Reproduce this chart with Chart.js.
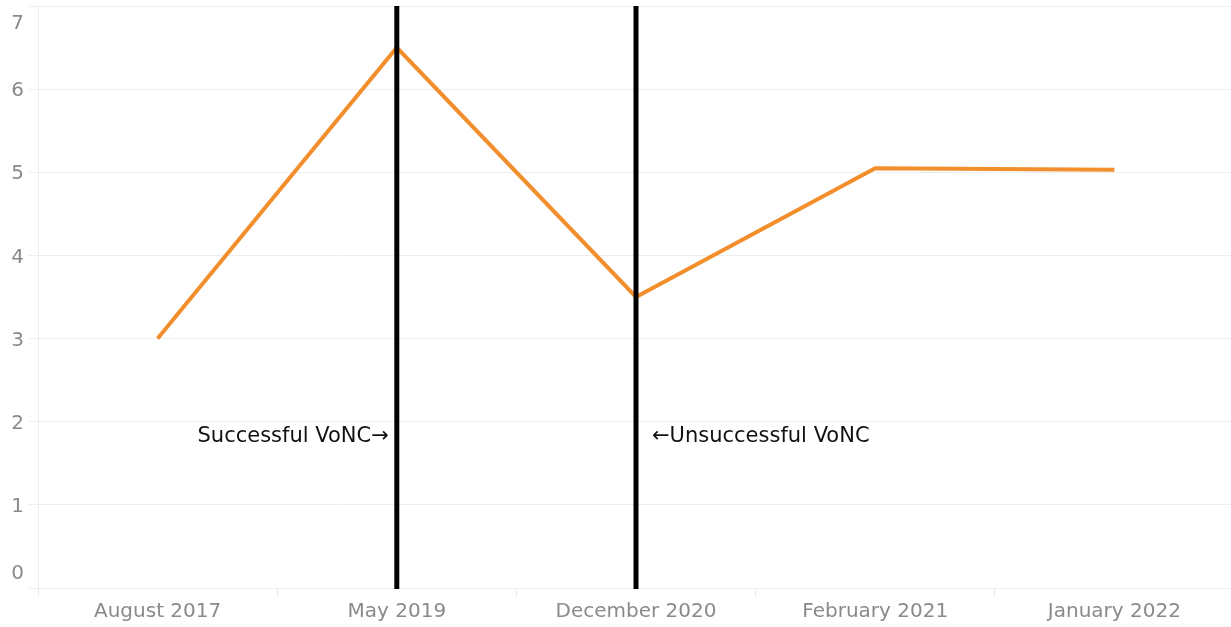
<!DOCTYPE html>
<html><head><meta charset="utf-8">
<script src="https://cdn.jsdelivr.net/npm/chart.js@4/dist/chart.umd.min.js"></script>
<style>html,body{margin:0;padding:0;background:#fff;overflow:hidden}#wrap{width:1231px;height:627px;overflow:hidden}</style>
</head><body><div id="wrap"><canvas id="c" width="1234" height="627"></canvas></div>
<script>
const categories = ["August 2017","May 2019","December 2020","February 2021","January 2022"];
const values = [3.0, 6.5, 3.5, 5.05, 5.03];
const yTicks = [0,1,2,3,4,5,6,7];
const markers = [
  {category: "May 2019", label: "Successful VoNC\u2192", side: "left"},
  {category: "December 2020", label: "\u2190Unsuccessful VoNC", side: "right"}
];
const markerLabelValue = 1.82;
const FONT = "'DejaVu Sans', sans-serif";

const overlay = {
  id: 'overlay',
  afterDatasetsDraw(chart) {
    const ctx = chart.ctx, x = chart.scales.x, y = chart.scales.y, a = chart.chartArea;
    ctx.save();
    markers.forEach(m => {
      const px = x.getPixelForValue(categories.indexOf(m.category));
      ctx.strokeStyle = '#000'; ctx.lineWidth = 5;
      ctx.beginPath(); ctx.moveTo(px, a.top); ctx.lineTo(px, a.bottom + 1); ctx.stroke();
      ctx.fillStyle = '#111'; ctx.font = "21px " + FONT; ctx.textBaseline = 'middle';
      const py = y.getPixelForValue(markerLabelValue);
      if (m.side === 'left') { ctx.textAlign = 'right'; ctx.fillText(m.label, px - 8, py); }
      else { ctx.textAlign = 'left'; ctx.fillText(m.label, px + 16, py); }
    });
    // y tick labels (kept inside the plot area like the reference)
    ctx.fillStyle = '#8a8a8a'; ctx.font = "20px " + FONT; ctx.textAlign = 'right'; ctx.textBaseline = 'middle';
    yTicks.forEach(v => {
      let py = y.getPixelForValue(v) + 2;
      py = Math.max(a.top + 18, Math.min(a.bottom - 14, py));
      ctx.fillText(String(v), 24, py);
    });
    ctx.restore();
  }
};

new Chart(document.getElementById('c'), {
  type: 'line',
  data: { labels: categories, datasets: [{
    data: values, borderColor: '#F28E2B', borderWidth: 4, pointRadius: 0, tension: 0, fill: false
  }]},
  options: {
    responsive: false, animation: false, devicePixelRatio: 1,
    layout: { padding: { top: 6, right: 0, left: 0, bottom: 0 } },
    plugins: { legend: { display: false }, tooltip: { enabled: false } },
    scales: {
      x: {
        offset: true,
        grid: { offset: true, drawOnChartArea: false, color: '#e6e6e6', tickLength: 8 },
        border: { display: false },
        ticks: { color: '#8a8a8a', font: { family: FONT, size: 20 }, padding: 4, maxRotation: 0 },
        afterFit(s) { s.height = 39; }
      },
      y: {
        min: 0, max: 7,
        ticks: { stepSize: 1, display: false },
        grid: { color: '#eeeeee', tickLength: 9 },
        border: { color: '#eeeeee' },
        afterFit(s) { s.width = 38; }
      }
    }
  },
  plugins: [overlay]
});
</script></body></html>
